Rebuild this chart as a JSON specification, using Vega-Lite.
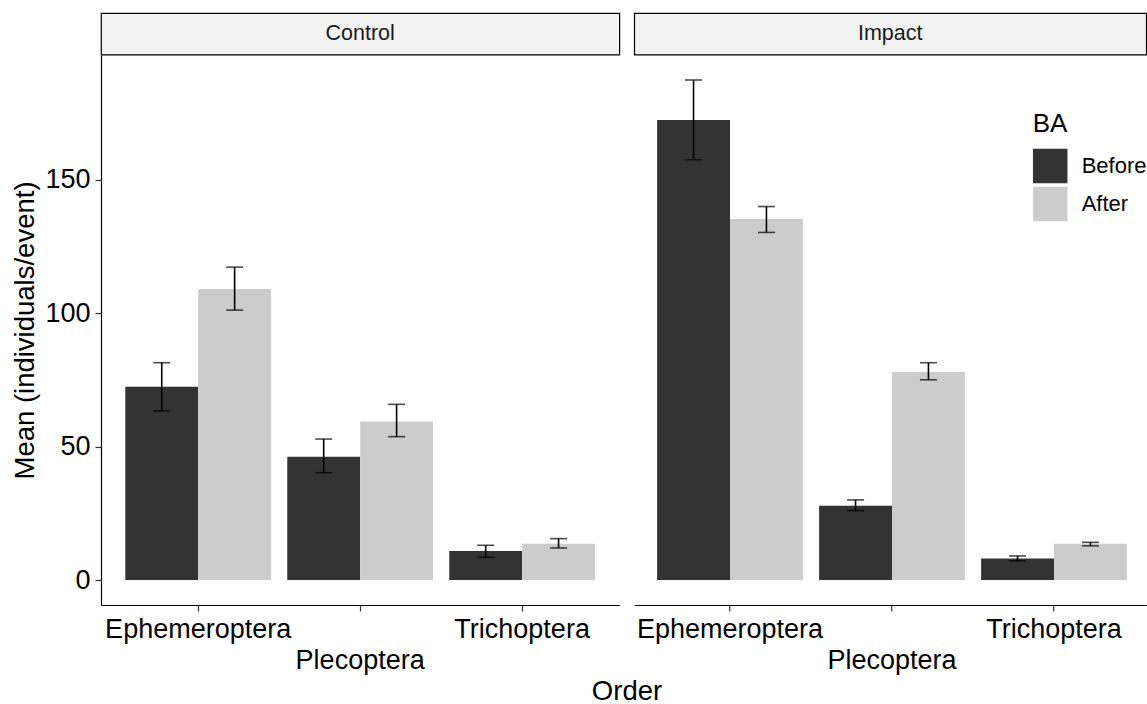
{
  "$schema": "https://vega.github.io/schema/vega-lite/v6.json",
  "padding": {"left": 11, "top": 12, "right": 0, "bottom": 0},
  "bounds": "flush",
  "columns": 2,
  "spacing": {"row": 0, "column": 14.2},
  "datasets": {
    "means": [
      {"Site": "Control", "Order": "Ephemeroptera", "BA": "Before", "mean": 72.4, "lower": 63.3, "upper": 81.4},
      {"Site": "Control", "Order": "Ephemeroptera", "BA": "After", "mean": 109.0, "lower": 101.1, "upper": 117.2},
      {"Site": "Control", "Order": "Plecoptera", "BA": "Before", "mean": 46.2, "lower": 40.2, "upper": 52.8},
      {"Site": "Control", "Order": "Plecoptera", "BA": "After", "mean": 59.4, "lower": 53.7, "upper": 65.8},
      {"Site": "Control", "Order": "Trichoptera", "BA": "Before", "mean": 10.9, "lower": 8.5, "upper": 13.0},
      {"Site": "Control", "Order": "Trichoptera", "BA": "After", "mean": 13.6, "lower": 12.0, "upper": 15.5},
      {"Site": "Impact", "Order": "Ephemeroptera", "BA": "Before", "mean": 172.3, "lower": 157.4, "upper": 187.3},
      {"Site": "Impact", "Order": "Ephemeroptera", "BA": "After", "mean": 135.2, "lower": 130.2, "upper": 139.9},
      {"Site": "Impact", "Order": "Plecoptera", "BA": "Before", "mean": 27.8, "lower": 26.0, "upper": 30.0},
      {"Site": "Impact", "Order": "Plecoptera", "BA": "After", "mean": 77.9, "lower": 75.0, "upper": 81.4},
      {"Site": "Impact", "Order": "Trichoptera", "BA": "Before", "mean": 8.1, "lower": 7.2, "upper": 9.0},
      {"Site": "Impact", "Order": "Trichoptera", "BA": "After", "mean": 13.6, "lower": 12.8, "upper": 14.1}
    ],
    "sites": [{"Site": "Control"}, {"Site": "Impact"}]
  },
  "resolve": {"scale": {"color": "independent"}, "legend": {"color": "independent"}},
  "concat": [
    {
      "width": 518.3,
      "height": 41.6,
      "data": {"name": "sites"},
      "transform": [{"filter": "datum.Site === 'Control'"}],
      "view": {"fill": "#F2F2F2", "stroke": "black", "strokeWidth": 1.2},
      "mark": {"type": "text", "fontSize": 21.5, "color": "#1A1A1A", "align": "center", "baseline": "middle"},
      "encoding": {"text": {"field": "Site", "type": "nominal"}}
    },
    {
      "width": 512,
      "height": 41.6,
      "data": {"name": "sites"},
      "transform": [{"filter": "datum.Site === 'Impact'"}],
      "view": {"fill": "#F2F2F2", "stroke": "black", "strokeWidth": 1.2},
      "mark": {"type": "text", "fontSize": 21.5, "color": "#1A1A1A", "align": "center", "baseline": "middle"},
      "encoding": {"text": {"field": "Site", "type": "nominal"}}
    },
    {
      "width": 518.3,
      "height": 550,
      "data": {"name": "means"},
      "transform": [{"filter": "datum.Site === 'Control'"}],
      "encoding": {
        "x": {
          "field": "Order", "type": "nominal",
          "sort": ["Ephemeroptera", "Plecoptera", "Trichoptera"],
          "scale": {"paddingInner": 0.1, "paddingOuter": 0.15},
          "axis": {
            "title": "Order",
            "titleX": 525.5,
            "titleY": 94,
            "titleBaseline": "alphabetic",
            "titleAlign": "center",
            "labelAngle": 0,
            "labelPadding": 5,
            "labelLimit": 600,
            "labelLineHeight": 31.4,
            "labelExpr": "datum.label === 'Plecoptera' ? ['', 'Plecoptera'] : datum.label"
          }
        },
        "xOffset": {"field": "BA", "type": "nominal", "sort": ["Before", "After"], "scale": {"paddingInner": 0, "paddingOuter": 0}}
      },
      "layer": [
        {
          "mark": {"type": "bar"},
          "encoding": {
            "y": {"field": "mean", "type": "quantitative", "title": "Mean (individuals/event)",
                  "scale": {"domain": [-9.365, 196.665], "nice": false, "zero": false},
                  "axis": {"values": [0, 50, 100, 150]}},
            "color": {"field": "BA", "type": "nominal", "sort": ["Before", "After"],
                      "scale": {"domain": ["Before", "After"], "range": ["#333333", "#CCCCCC"]},
                      "legend": null}
          }
        },
        {
          "mark": {"type": "rule", "color": "black", "strokeWidth": 1.6},
          "encoding": {
            "y": {"field": "lower", "type": "quantitative", "title": "Mean (individuals/event)", "scale": {"domain": [-9.365, 196.665], "nice": false, "zero": false}},
            "y2": {"field": "upper"}
          }
        },
        {
          "mark": {"type": "tick", "color": "black", "size": 17, "thickness": 1.6},
          "encoding": {
            "y": {"field": "lower", "type": "quantitative", "title": "Mean (individuals/event)", "scale": {"domain": [-9.365, 196.665], "nice": false, "zero": false}}
          }
        },
        {
          "mark": {"type": "tick", "color": "black", "size": 17, "thickness": 1.6},
          "encoding": {
            "y": {"field": "upper", "type": "quantitative", "title": "Mean (individuals/event)", "scale": {"domain": [-9.365, 196.665], "nice": false, "zero": false}}
          }
        }
      ]
    },
    {
      "width": 512,
      "height": 550,
      "data": {"name": "means"},
      "transform": [{"filter": "datum.Site === 'Impact'"}],
      "encoding": {
        "x": {
          "field": "Order", "type": "nominal",
          "sort": ["Ephemeroptera", "Plecoptera", "Trichoptera"],
          "scale": {"paddingInner": 0.1, "paddingOuter": 0.13025, "align": 0.543},
          "axis": {
            "title": null,
            "labelAngle": 0,
            "labelPadding": 5,
            "labelLimit": 600,
            "labelLineHeight": 31.4,
            "labelExpr": "datum.label === 'Plecoptera' ? ['', 'Plecoptera'] : datum.label"
          }
        },
        "xOffset": {"field": "BA", "type": "nominal", "sort": ["Before", "After"], "scale": {"paddingInner": 0, "paddingOuter": 0}}
      },
      "layer": [
        {
          "mark": {"type": "bar"},
          "encoding": {
            "y": {"field": "mean", "type": "quantitative",
                  "scale": {"domain": [-9.365, 196.665], "nice": false, "zero": false},
                  "axis": null},
            "color": {"field": "BA", "type": "nominal", "sort": ["Before", "After"],
                      "scale": {"domain": ["Before", "After"], "range": ["#333333", "#CCCCCC"]},
                      "legend": {
                        "title": "BA",
                        "orient": "none",
                        "direction": "vertical",
                        "legendX": 398.5,
                        "legendY": 55.5,
                        "padding": 0,
                        "titleFontSize": 26,
                        "titleFontWeight": "normal",
                        "titleColor": "black",
                        "titlePadding": 12,
                        "labelFontSize": 22,
                        "labelColor": "black",
                        "labelOffset": 14,
                        "symbolType": "square",
                        "symbolSize": 1190,
                        "symbolStrokeWidth": 0,
                        "symbolOpacity": 1,
                        "rowPadding": 3
                      }}
          }
        },
        {
          "mark": {"type": "rule", "color": "black", "strokeWidth": 1.6},
          "encoding": {
            "y": {"field": "lower", "type": "quantitative", "scale": {"domain": [-9.365, 196.665], "nice": false, "zero": false}, "axis": null},
            "y2": {"field": "upper"}
          }
        },
        {
          "mark": {"type": "tick", "color": "black", "size": 17, "thickness": 1.6},
          "encoding": {
            "y": {"field": "lower", "type": "quantitative", "scale": {"domain": [-9.365, 196.665], "nice": false, "zero": false}, "axis": null}
          }
        },
        {
          "mark": {"type": "tick", "color": "black", "size": 17, "thickness": 1.6},
          "encoding": {
            "y": {"field": "upper", "type": "quantitative", "scale": {"domain": [-9.365, 196.665], "nice": false, "zero": false}, "axis": null}
          }
        }
      ]
    }
  ],
  "config": {
    "font": "Liberation Sans",
    "view": {"stroke": null},
    "bar": {"opacity": 1},
    "axis": {
      "grid": false,
      "domainColor": "black",
      "domainWidth": 1.2,
      "tickColor": "#333333",
      "tickWidth": 1.2,
      "tickSize": 6,
      "labelFontSize": 27,
      "labelColor": "black",
      "labelLimit": 600,
      "titleFontSize": 27.5,
      "titleFontWeight": "normal",
      "titleColor": "black"
    },
    "axisY": {"labelPadding": 5, "titlePadding": 5.5},
    "axisX": {"labelFlush": false}
  }
}
